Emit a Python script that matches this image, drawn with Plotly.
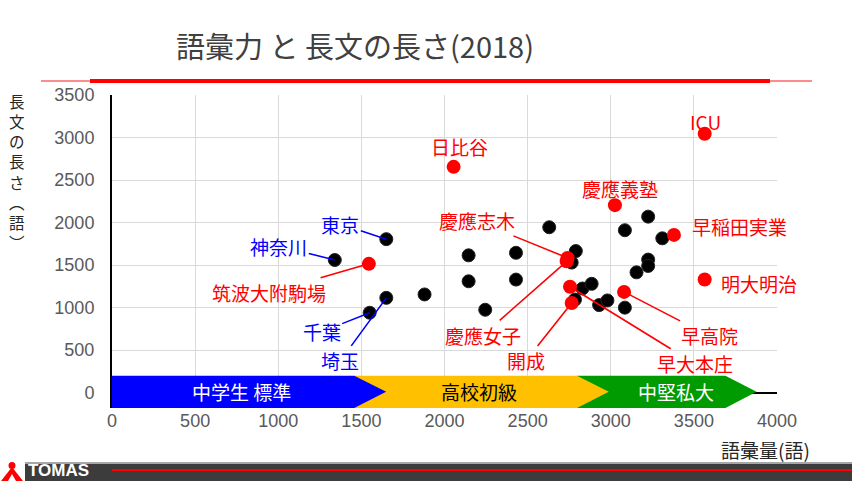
import plotly.graph_objects as go

# 語彙量 (x) と 長文の長さ (y)
black_x = [1880, 2145, 2145, 2245, 2430, 2430, 2630, 2790, 2765, 2830, 2885, 2785,
           2930, 2980, 3085, 3085, 3155, 3225, 3225, 3225, 3310]
black_y = [1155, 1615, 1310, 975, 1645, 1330, 1945, 1665, 1530, 1225, 1280, 1095,
           1030, 1085, 1910, 1000, 1415, 2070, 1565, 1490, 1815]

blue_names = ["東京", "神奈川", "千葉", "埼玉"]
blue_x = [1650, 1340, 1550, 1650]
blue_y = [1805, 1560, 940, 1115]

red_names = ["筑波大附駒場", "日比谷", "ICU", "慶應義塾", "早稲田実業", "明大明治",
             "慶應志木", "慶應女子", "開成", "早大本庄", "早高院"]
red_x = [1545, 2055, 3565, 3025, 3380, 3565, 2740, 2735, 2765, 2755, 3080]
red_y = [1515, 2655, 3045, 2205, 1855, 1330, 1585, 1545, 1055, 1245, 1185]

band_names = ["中学生 標準", "高校初級", "中堅私大"]
band_start = [0, 1457, 2797]
band_end = [1457, 2797, 3690]
band_tip = [1649, 2988, 3877]
band_colors = ["#0000ff", "#ffc000", "#009b00"]
band_text_colors = ["white", "black", "white"]
band_label_x = [780, 2205, 3395]

x_ticks = [0, 500, 1000, 1500, 2000, 2500, 3000, 3500, 4000]
y_ticks = [0, 500, 1000, 1500, 2000, 2500, 3000, 3500]

# label placement (pixels): arrow offsets or plain shifts
arrow_offsets = {
    "東京": (-46, -15), "神奈川": (-56, -14), "千葉": (-48, 19), "埼玉": (-46, 63),
    "筑波大附駒場": (-100, 29), "慶應志木": (-91, -37), "慶應女子": (-84, 74),
    "開成": (-46, 58), "早大本庄": (125, 77), "早高院": (85, 44),
}
text_shifts = {
    "日比谷": (6, 20), "ICU": (1, 12), "慶應義塾": (5, 17),
    "早稲田実業": (66, 8), "明大明治": (54, -4),
}

W, H = 852, 481
L, R, T, B = 112, 75, 95, 73
PW, PH = W - L - R, H - T - B
JP = "Noto Sans CJK JP"


def pxx(px):
    return (px - L) / PW


def pxy(py):
    return (H - B - py) / PH


def note(px, py, text, size, color, **kw):
    # free text placed in page pixels
    args = dict(xref="paper", yref="paper", x=pxx(px), y=pxy(py), text=text, showarrow=False,
                xanchor="center", yanchor="middle", font=dict(family=JP, size=size, color=color))
    args.update(kw)
    fig.add_annotation(**args)


fig = go.Figure()

# bands (green under yellow under blue)
for i in [2, 1, 0]:
    s, e, t = band_start[i], band_end[i], band_tip[i]
    fig.add_trace(go.Scatter(
        x=[s, e, t, e, s, s], y=[200, 200, 10, -180, -180, 200],
        fill="toself", fillcolor=band_colors[i], mode="lines",
        line=dict(width=0, color=band_colors[i]), hoverinfo="skip", showlegend=False))

fig.add_trace(go.Scatter(
    x=black_x + blue_x, y=black_y + blue_y, mode="markers",
    marker=dict(size=13, color="black", line=dict(width=1, color="#222")),
    showlegend=False))
fig.add_trace(go.Scatter(
    x=red_x, y=red_y, mode="markers",
    marker=dict(size=14, color="#ff0000"), showlegend=False))

for name, x, y in zip(blue_names, blue_x, blue_y):
    ax, ay = arrow_offsets[name]
    fig.add_annotation(x=x, y=y, text=name, showarrow=True, ax=ax, ay=ay,
                       arrowhead=0, arrowwidth=1.6, arrowcolor="#0000ff",
                       font=dict(family=JP, size=19, color="#0000ff"))

for name, x, y in zip(red_names, red_x, red_y):
    if name in arrow_offsets:
        ax, ay = arrow_offsets[name]
        fig.add_annotation(x=x, y=y, text=name, showarrow=True, ax=ax, ay=ay,
                           arrowhead=0, arrowwidth=1.6, arrowcolor="#ff0000",
                           font=dict(family=JP, size=19, color="#ff0000"))
    else:
        xs, ys = text_shifts[name]
        fig.add_annotation(x=x, y=y, text=name, showarrow=False, xshift=xs, yshift=ys,
                           xanchor="center", yanchor="middle",
                           font=dict(family=JP, size=19, color="#ff0000"))

for name, lx, c in zip(band_names, band_label_x, band_text_colors):
    fig.add_annotation(x=lx, y=10, text=name, showarrow=False, xanchor="center", yanchor="middle",
                       font=dict(family=JP, size=19, color=c))

# title + red rule
note(355, 45, "語彙力 と 長文の長さ(2018)", 29, "#404040")
fig.add_shape(type="line", xref="paper", yref="paper", x0=pxx(41), x1=pxx(812), y0=pxy(81), y1=pxy(81),
              line=dict(color="rgba(255,0,0,0.45)", width=2))
fig.add_shape(type="line", xref="paper", yref="paper", x0=pxx(90), x1=pxx(770), y0=pxy(81), y1=pxy(81),
              line=dict(color="#ff0000", width=4))

# axis titles (vertical writing, one character per line)
note(16.5, 88, "<br>".join(["長", "文", "の", "長", "さ", "︵", "語", "︶"]), 15.5, "#262626",
     yanchor="top")
note(812, 449, "語彙量(語)", 19, "#262626", xanchor="right")

# footer
fig.add_shape(type="rect", xref="paper", yref="paper", x0=pxx(25), x1=pxx(852), y0=pxy(481), y1=pxy(463),
              fillcolor="#3c3c3c", line=dict(width=0), layer="above")
fig.add_shape(type="rect", xref="paper", yref="paper", x0=pxx(25), x1=pxx(852), y0=pxy(464), y1=pxy(462),
              fillcolor="#a6a6a6", line=dict(width=0), layer="above")
fig.add_shape(type="line", xref="paper", yref="paper", x0=pxx(112), x1=pxx(852), y0=pxy(470), y1=pxy(470),
              line=dict(color="#ff0000", width=2), layer="above")
fig.add_shape(type="path", xref="paper", yref="paper",
              path=f"M {pxx(1)} {pxy(481)} L {pxx(12)} {pxy(467)} L {pxx(23)} {pxy(481)} Z",
              fillcolor="#ff0000", line=dict(width=0), layer="above")
fig.add_shape(type="path", xref="paper", yref="paper",
              path=f"M {pxx(8)} {pxy(481)} L {pxx(12)} {pxy(474)} L {pxx(16)} {pxy(481)} Z",
              fillcolor="white", line=dict(width=0), layer="above")
fig.add_shape(type="circle", xref="paper", yref="paper", x0=pxx(8.5), x1=pxx(15.5), y0=pxy(469), y1=pxy(462),
              fillcolor="#ff0000", line=dict(width=0), layer="above")
note(27, 470.5, "<b>TOMAS</b>", 17, "white", xanchor="left", borderpad=0)
fig.layout.annotations[-1].font.family = "Liberation Sans"

fig.update_xaxes(range=[0, 4000], tickvals=x_ticks, showgrid=True, gridcolor="#d9d9d9", gridwidth=1,
                 zeroline=False, showline=False, ticks="",
                 tickfont=dict(family="Liberation Sans", size=18, color="#595959"))
fig.update_yaxes(range=[-180, 3500], tickvals=y_ticks, showgrid=True, gridcolor="#d9d9d9", gridwidth=1,
                 zeroline=True, zerolinecolor="black", zerolinewidth=2,
                 showline=True, linecolor="black", linewidth=2, ticks="", ticklabelstandoff=12,
                 tickfont=dict(family="Liberation Sans", size=18, color="#595959"))

fig.update_layout(width=W, height=H, margin=dict(l=L, r=R, t=T, b=B),
                  plot_bgcolor="white", paper_bgcolor="white", showlegend=False)

fig.write_html("out.html", config={"displayModeBar": False},
               post_script="document.body.style.margin='0';")
